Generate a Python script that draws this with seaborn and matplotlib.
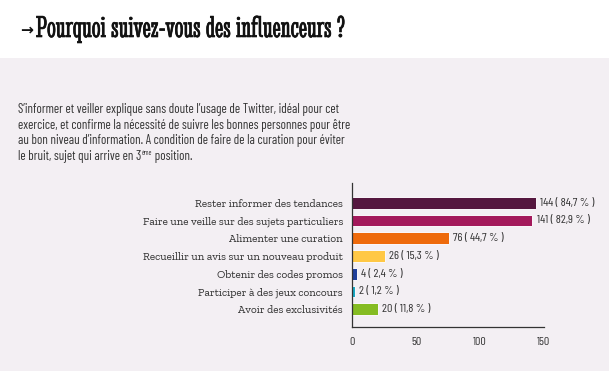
import matplotlib
matplotlib.use("Agg")
import matplotlib.pyplot as plt
import matplotlib.patheffects as pe
from matplotlib.patches import Rectangle
import seaborn as sns
import pandas as pd

categories = [
    "Rester informer des tendances",
    "Faire une veille sur des sujets particuliers",
    "Alimenter une curation",
    "Recueillir un avis sur un nouveau produit",
    "Obtenir des codes promos",
    "Participer à des jeux concours",
    "Avoir des exclusivités",
]
counts = [144, 141, 76, 26, 4, 2, 20]
percents = ["84,7", "82,9", "44,7", "15,3", "2,4", "1,2", "11,8"]
bar_colors = ["#55173f", "#a3195b", "#ee6a0b", "#ffc845", "#1f3e9a", "#19a9c4", "#85bc22"]
x_ticks = [0, 50, 100, 150]

title_arrow = "→"
title = "Pourquoi suivez-vous des influenceurs ?"
para_lines = [
    "S’informer et veiller explique sans doute l’usage de Twitter, idéal pour cet",
    "exercice, et confirme la nécessité de suivre les bonnes personnes pour être",
    "au bon niveau d’information. A condition de faire de la curation pour éviter",
]
last_line = ("le bruit, sujet qui arrive en 3", "ème", " position.")

sns.set_theme(style="white")
BG = "#f3eff3"
SANS = ["Barlow Condensed", "Barlow Semi Condensed", "Roboto Condensed", "DejaVu Sans"]
TITLE_SLAB = ["Stint Ultra Condensed", "Zilla Slab", "DejaVu Serif"]
LABEL_SLAB = ["Zilla Slab", "DejaVu Serif"]
TXT = "#333333"

W, H = 609, 371
fig = plt.figure(figsize=(W / 100, H / 100), dpi=100, facecolor=BG)
fig.add_artist(Rectangle((0, 1 - 58 / H), 1, 58 / H, transform=fig.transFigure,
                         facecolor="white", edgecolor="none", zorder=0))
r = fig.canvas.get_renderer()


def fit(text_artist, target_px):
    w = text_artist.get_window_extent(r).width
    text_artist.set_fontsize(text_artist.get_fontsize() * target_px / w)


ax = fig.add_axes([352 / W, 1 - 327 / H, 192 / W, (327 - 183) / H])
ax.set_facecolor(BG)

df = pd.DataFrame({"cat": categories, "n": counts})
sns.barplot(data=df, x="n", y="cat", hue="cat", palette=bar_colors, legend=False,
            orient="h", width=0.67, edgecolor="#fbf8fb", linewidth=0.7, ax=ax, saturation=1)

ax.set_xlim(0, 150)
ax.set_ylim(7.0, -1.11)
ax.set_xticks(x_ticks)
ax.set_xlabel("")
ax.set_ylabel("")
for s in ["top", "right"]:
    ax.spines[s].set_visible(False)
for s in ["left", "bottom"]:
    ax.spines[s].set_color("#333333")
    ax.spines[s].set_linewidth(0.9)
ax.tick_params(axis="y", length=0, pad=6.5)
ax.tick_params(axis="x", direction="in", length=3, width=0.9, color="#333333", pad=7)

probe = fig.text(0, 0, categories[1], family=LABEL_SLAB, fontsize=9)
fit(probe, 203)
ylab_fs = probe.get_fontsize()
probe.remove()
for lab in ax.get_yticklabels():
    lab.set(family=LABEL_SLAB, fontsize=ylab_fs, color=TXT)

probe = fig.text(0, 0, "150", family=SANS, fontsize=8)
fit(probe, 13.5)
xt_fs = probe.get_fontsize()
probe.remove()
for lab in ax.get_xticklabels():
    lab.set(family=SANS, fontsize=xt_fs, color=TXT)

probe = fig.text(0, 0, f"{counts[0]} ( {percents[0]} % )", family=SANS, fontsize=8)
fit(probe, 55)
val_fs = probe.get_fontsize()
probe.remove()
for i, (c, p) in enumerate(zip(counts, percents)):
    ax.annotate(f"{c} ( {p} % )", xy=(c, i), xytext=(3, 0), textcoords="offset points",
                va="center", ha="left", fontsize=val_fs, color=TXT, family=SANS)

arrow = fig.text(20 / W, 1 - 30 / H, title_arrow, ha="left", va="center", fontsize=15,
                 fontweight="bold", color="#111111", family="DejaVu Sans")
fit(arrow, 13)
t = fig.text(36 / W, 1 - 37 / H, title, ha="left", va="baseline", fontsize=15.5,
             color="#111111", family=TITLE_SLAB,
             path_effects=[pe.withStroke(linewidth=0.45, foreground="#111111")])
fit(t, 312)

ys = [113, 129, 144.5, 160]
t0 = fig.text(18 / W, 1 - ys[0] / H, para_lines[0], ha="left", va="baseline",
              fontsize=9.5, color=TXT, family=SANS)
fit(t0, 320)
para_fs = t0.get_fontsize()
for line, y in zip(para_lines[1:], ys[1:3]):
    fig.text(18 / W, 1 - y / H, line, ha="left", va="baseline", fontsize=para_fs,
             color=TXT, family=SANS)
t1 = fig.text(18 / W, 1 - ys[3] / H, last_line[0], ha="left", va="baseline",
              fontsize=para_fs, color=TXT, family=SANS)
x1 = t1.get_window_extent(r).x1 / W
t2 = fig.text(x1 + 0.5 / W, 1 - (ys[3] - 5) / H, last_line[1], ha="left", va="baseline",
              fontsize=para_fs * 0.55, color=TXT, family=SANS)
x2 = t2.get_window_extent(r).x1 / W
fig.text(x2, 1 - ys[3] / H, last_line[2], ha="left", va="baseline",
         fontsize=para_fs, color=TXT, family=SANS)

fig.savefig("out.png", dpi=100, facecolor=BG)
